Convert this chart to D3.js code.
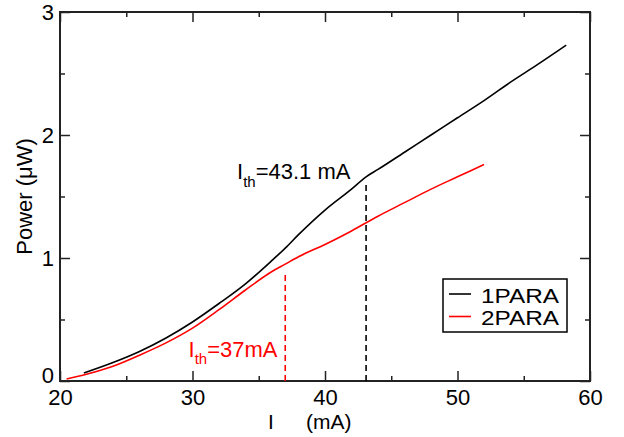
<!DOCTYPE html>
<html>
<head>
<meta charset="utf-8">
<script src="https://cdn.jsdelivr.net/npm/d3@7"></script>
<style>
  html, body { margin: 0; padding: 0; background: #fff; }
  svg { display: block; font-family: "Liberation Sans", Arial, Helvetica, sans-serif; }
</style>
</head>
<body>
<svg id="chart" width="624" height="437"></svg>
<script>
// ---- data ----
const series1Name = "1PARA";
const series1X = [21.8, 24, 26, 28, 30, 32, 34, 36, 37, 38, 40, 42, 43.1, 44, 46, 48, 50, 52, 54, 56, 58.2];
const series1Y = [0.065, 0.15, 0.24, 0.35, 0.48, 0.63, 0.79, 0.98, 1.08, 1.19, 1.39, 1.56, 1.66, 1.72, 1.86, 2.00, 2.14, 2.28, 2.43, 2.57, 2.73];

const series2Name = "2PARA";
const series2X = [20.5, 22, 24, 26, 28, 30, 32, 34, 36, 37, 38, 40, 42, 44, 46, 48, 50, 52];
const series2Y = [0.016, 0.055, 0.12, 0.21, 0.31, 0.43, 0.58, 0.74, 0.89, 0.95, 1.01, 1.11, 1.22, 1.34, 1.45, 1.56, 1.66, 1.76];

const threshold1 = { x: 43.1, top: 1.61, label: "=43.1 mA" };
const threshold2 = { x: 37, top: 0.89, label: "=37mA" };

const xMajorTicks = [20, 30, 40, 50, 60];
const xMinorTicks = [25, 35, 45, 55];
const yMajorTicks = [0, 1, 2, 3];
const yMinorTicks = [0.5, 1.5, 2.5];

// ---- layout ----
const svg = d3.select("#chart");
const L = 60, R = 590, T = 12, B = 381;
const x = d3.scaleLinear().domain([20, 60]).range([L, R]);
const y = d3.scaleLinear().domain([0, 3]).range([B, T]);
const axisColor = "#222";
const FS = 22;

function styleAxis(g) {
  g.select(".domain").remove();
  g.selectAll(".tick line").attr("stroke", axisColor).attr("stroke-width", 1.5);
  g.selectAll(".tick text").attr("fill", "#000").attr("font-size", FS)
    .attr("font-family", "'Liberation Sans', Arial, sans-serif");
}

// bottom
svg.append("g").attr("transform", `translate(0,${B})`)
  .call(d3.axisBottom(x).tickValues(xMajorTicks).tickSize(-10).tickPadding(8).tickFormat(d3.format("d")))
  .call(styleAxis);
svg.append("g").attr("transform", `translate(0,${B})`)
  .call(d3.axisBottom(x).tickValues(xMinorTicks).tickSize(-5).tickFormat(""))
  .call(styleAxis);
// top
svg.append("g").attr("transform", `translate(0,${T})`)
  .call(d3.axisTop(x).tickValues(xMajorTicks).tickSize(-10).tickFormat(""))
  .call(styleAxis);
svg.append("g").attr("transform", `translate(0,${T})`)
  .call(d3.axisTop(x).tickValues(xMinorTicks).tickSize(-5).tickFormat(""))
  .call(styleAxis);
// left
const yAxisG = svg.append("g").attr("transform", `translate(${L},0)`)
  .call(d3.axisLeft(y).tickValues(yMajorTicks).tickSize(-10).tickPadding(6).tickFormat(d3.format("d")))
  .call(styleAxis);
// the "0" label sits slightly above its tick in the reference
yAxisG.selectAll(".tick").filter(d => d === 0).select("text").attr("dy", "0.05em");
svg.append("g").attr("transform", `translate(${L},0)`)
  .call(d3.axisLeft(y).tickValues(yMinorTicks).tickSize(-5).tickFormat(""))
  .call(styleAxis);
// right
svg.append("g").attr("transform", `translate(${R},0)`)
  .call(d3.axisRight(y).tickValues(yMajorTicks).tickSize(-10).tickFormat(""))
  .call(styleAxis);
svg.append("g").attr("transform", `translate(${R},0)`)
  .call(d3.axisRight(y).tickValues(yMinorTicks).tickSize(-5).tickFormat(""))
  .call(styleAxis);

// frame
svg.append("rect").attr("x", L).attr("y", T).attr("width", R - L).attr("height", B - T)
  .attr("fill", "none").attr("stroke", axisColor).attr("stroke-width", 2);

// axis titles
const xt = svg.append("text").attr("y", 429).attr("font-size", 21).attr("fill", "#000");
xt.append("tspan").attr("x", 268).text("I");
xt.append("tspan").attr("x", 306).text("(mA)");

svg.append("text")
  .attr("transform", `translate(32,${(T + B) / 2}) rotate(-90)`)
  .attr("text-anchor", "middle").attr("font-size", FS).attr("fill", "#000")
  .text("Power (\u03BCW)");

// lines
const line = d3.line().x(d => x(d[0])).y(d => y(d[1])).curve(d3.curveMonotoneX);
const d1 = series1X.map((v, i) => [v, series1Y[i]]);
const d2 = series2X.map((v, i) => [v, series2Y[i]]);

svg.append("path").datum(d1).attr("d", line).attr("fill", "none")
  .attr("stroke", "#000").attr("stroke-width", 1.6);
svg.append("path").datum(d2).attr("d", line).attr("fill", "none")
  .attr("stroke", "#ff0000").attr("stroke-width", 1.6);

// threshold dashed lines
svg.append("line").attr("x1", x(threshold1.x)).attr("x2", x(threshold1.x))
  .attr("y1", y(0)).attr("y2", y(threshold1.top))
  .attr("stroke", "#000").attr("stroke-width", 1.6).attr("stroke-dasharray", "6,4");
svg.append("line").attr("x1", x(threshold2.x)).attr("x2", x(threshold2.x))
  .attr("y1", y(0)).attr("y2", y(threshold2.top))
  .attr("stroke", "#ff0000").attr("stroke-width", 1.6).attr("stroke-dasharray", "6,4");

// threshold labels
function thLabel(xp, yp, color, rest) {
  const t = svg.append("text").attr("x", xp).attr("y", yp).attr("fill", color).attr("font-size", FS);
  t.append("tspan").text("I");
  t.append("tspan").attr("font-size", 15).attr("dy", 7.5).text("th");
  t.append("tspan").attr("dy", -7.5).text(rest);
}
thLabel(237, 179, "#000", threshold1.label);
thLabel(188.5, 356.5, "#ff0000", threshold2.label);

// legend
const lg = svg.append("g");
lg.append("rect").attr("x", 443).attr("y", 279).attr("width", 124).attr("height", 53)
  .attr("fill", "#fff").attr("stroke", "#000").attr("stroke-width", 1.5);
[[series1Name, "#000", 294, 303], [series2Name, "#ff0000", 316.5, 325]].forEach(([name, c, ly, ty]) => {
  lg.append("line").attr("x1", 449).attr("x2", 471).attr("y1", ly).attr("y2", ly)
    .attr("stroke", c).attr("stroke-width", 1.6);
  lg.append("text").attr("x", 481).attr("y", ty).attr("font-size", 21)
    .attr("textLength", 78).attr("lengthAdjust", "spacingAndGlyphs").attr("fill", "#000").text(name);
});
</script>
</body>
</html>
